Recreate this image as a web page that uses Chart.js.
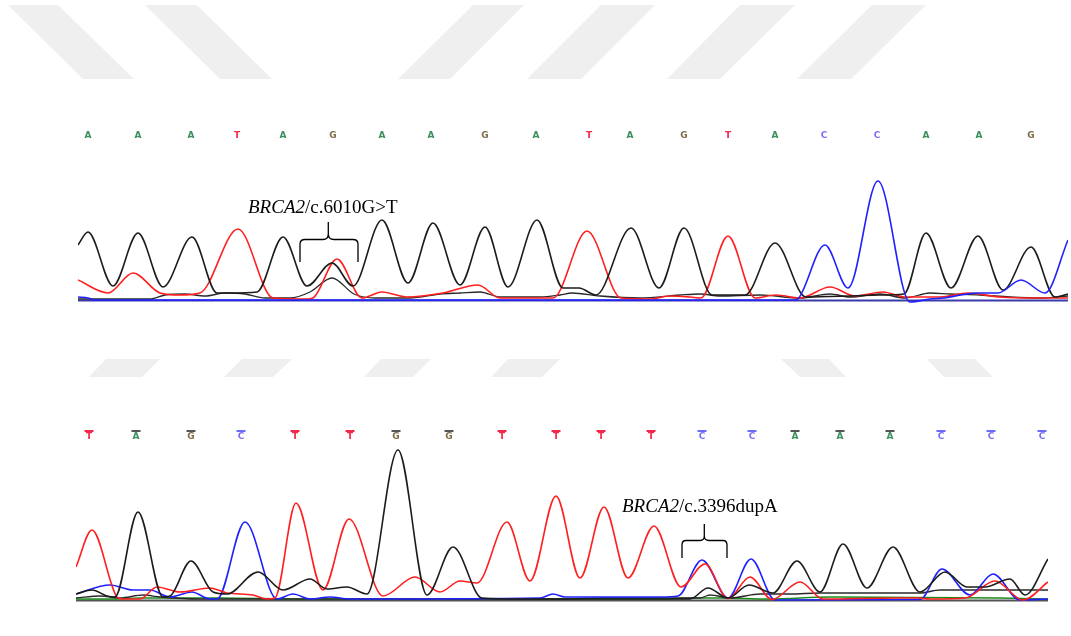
<!DOCTYPE html>
<html>
<head>
<meta charset="utf-8">
<script src="https://cdn.jsdelivr.net/npm/chart.js@4.4.1/dist/chart.umd.min.js"></script>
<style>
  html, body { margin: 0; padding: 0; background: #ffffff; }
  #wrap { position: relative; width: 1071px; height: 636px; overflow: hidden; background: #fff; }
  #wrap svg, #wrap canvas { position: absolute; left: 0; top: 0; }
</style>
</head>
<body>
<div id="wrap">
<svg id="bg" width="1071" height="636" xmlns="http://www.w3.org/2000/svg">
  <g fill="#efefef">
    <polygon points="8,5 58,5 134,79 83,79"/>
    <polygon points="145,5 197,5 272,79 220,79"/>
    <polygon points="473,5 524,5 450,79 398,79"/>
    <polygon points="601,5 655,5 581,79 527,79"/>
    <polygon points="740,5 795,5 720,79 667,79"/>
    <polygon points="872,5 926,5 851,79 797,79"/>
    <polygon points="106,359 160,359 142,377 89,377"/>
    <polygon points="242,359 292,359 273,377 224,377"/>
    <polygon points="381,359 431,359 413,377 364,377"/>
    <polygon points="508,359 560,359 542,377 491,377"/>
    <polygon points="781,359 829,359 846,377 800,377"/>
    <polygon points="927,359 975,359 993,377 944,377"/>
  </g>
</svg>
<canvas id="c1" width="1071" height="636"></canvas>
<canvas id="c2" width="1071" height="636"></canvas>
<svg id="fg" width="1071" height="636" xmlns="http://www.w3.org/2000/svg">
  <text x="248" y="213" font-family="Liberation Serif, Times New Roman, serif" font-size="19" fill="#000"><tspan font-style="italic">BRCA2</tspan>/c.6010G&gt;T</text>
  <path d="M300,262 V244 Q300,239.5 305,239.5 H323 Q328.3,239.5 328.3,234 V222 M328.3,234 Q328.3,239.5 334,239.5 H353 Q358,239.5 358,244 V262" fill="none" stroke="#000" stroke-width="1.3"/>
  <text x="622" y="512" font-family="Liberation Serif, Times New Roman, serif" font-size="19" fill="#000"><tspan font-style="italic">BRCA2</tspan>/c.3396dupA</text>
  <path d="M682,558 V545 Q682,540.5 686,540.5 H700 Q704.3,540.5 704.3,536 V524 M704.3,536 Q704.3,540.5 709,540.5 H723 Q727,540.5 727,545 V558" fill="none" stroke="#000" stroke-width="1.3"/>
</svg>
</div>
<script>
// ---------- DATA ----------
// Top chromatogram (c.6010G>T): base calls and their scan positions
const topBases = ["A","A","A","T","A","G","A","A","G","A","T","A","G","T","A","C","C","A","A","G"];
const topBasePos = [88,138,191,237,283,333,382,431,485,536,589,630,684,728,775,824,877,926,979,1031];

// Top traces: [scan position, signal]
const topDark = [[78,55],[88,68],[113,14],[138,67],[163,13],[192,63],[217,7],[230,7],[257,8],[283,63],[307,14],[332,37],[353,14],[382,80],[408,17],[433,77],[460,15],[485,73],[508,13],[537,80],[563,12],[579,12],[596,5],[631,72],[659,12],[684,72],[712,5],[745,5],[775,57],[806,3],[850,4],[880,5],[904,6],[926,67],[951,12],[978,64],[1003,10],[1031,53],[1055,3],[1068,6]];
const topDark2 = [[78,1],[150,1],[165,5],[185,6],[205,4],[225,7],[245,6],[265,2],[290,2],[310,8],[332,22],[354,6],[375,2],[410,2],[440,6],[460,7],[480,8],[500,3],[540,3],[560,5],[572,7],[600,4],[640,2],[680,5],[700,6],[720,4],[760,5],[800,2],[830,6],[850,3],[880,6],[905,2],[930,7],[950,6],[980,5],[1010,3],[1040,2],[1068,4]];
const topRed = [[78,20],[108,7],[133,27],[160,7],[180,5],[200,7],[238,71],[273,2],[307,1],[313,2],[337,41],[362,2],[382,8],[407,3],[443,7],[478,15],[500,2],[530,2],[553,2],[587,69],[621,2],[650,1],[670,4],[690,3],[701,2],[728,64],[755,2],[776,5],[800,2],[830,13],[855,4],[883,8],[905,3],[940,3],[968,7],[1000,3],[1040,2],[1068,2]];
const topBlue = [[78,3],[88,2],[95,0],[795,0],[798,1],[825,55],[848,12],[878,119],[910,-2],[930,1],[944,2],[961,5],[978,7],[998,7],[1021,20],[1045,7],[1068,60]];
const topBase = [[78,-0.5],[1068,-0.5]];

// Bottom chromatogram (c.3396dupA)
const botBases = ["T","A","G","C","T","T","G","G","T","T","T","T","C","C","A","A","A","C","C","C"];
const botBasePos = [89,136,191,241,295,350,396,449,502,556,601,651,702,752,795,840,890,941,991,1042];

const botDark = [[76,6],[92,10],[107,4],[115,3],[138,88],[163,3],[170,4],[191,39],[213,8],[227,6],[258,28],[283,10],[310,21],[327,11],[347,13],[367,6],[398,150],[427,5],[453,53],[482,2],[520,1],[600,1],[690,1],[708,12],[728,2],[749,15],[773,7],[797,39],[820,8],[843,56],[867,12],[893,53],[920,8],[945,28],[967,13],[985,13],[1010,21],[1025,5],[1048,41]];
const botDark2 = [[76,2],[100,4],[120,2],[143,5],[160,3],[200,1],[560,1],[600,2],[700,2],[710,5],[730,2],[760,6],[790,6],[820,7],[920,7],[940,10],[1000,10],[1048,10]];
const botRed = [[76,33],[92,70],[117,3],[122,1],[140,1],[157,13],[180,8],[210,12],[227,7],[253,5],[267,1],[275,2],[296,97],[323,10],[349,81],[383,4],[415,23],[440,8],[460,19],[477,17],[507,78],[530,19],[556,104],[580,22],[604,93],[628,22],[654,74],[681,13],[705,36],[728,1.5],[750,23],[772,0.5],[800,18],[823,1],[897,2],[917,2],[930,1],[965,2],[995,19],[1023,0],[1048,18]];
const botBlue = [[76,6],[110,15],[133,10],[150,10],[170,3],[192,8],[210,1],[217,1],[245,78],[277,1],[293,6],[310,1],[330,3],[350,1],[540,2],[553,6],[565,3],[660,3],[678,4],[702,40],[728,2],[751,41],[775,0],[920,0.5],[942,31],[970,5],[993,26],[1020,0],[1048,1]];
const botGreen = [[76,1],[110,1],[140,2],[170,2],[220,2],[300,1],[520,1],[660,1],[690,2],[720,2],[770,1],[830,3],[1000,2],[1048,1]];
const botBase = [[76,-0.5],[1048,-0.5]];

// ---------- STYLE ----------
const baseColor = { A: "#3d8f5f", T: "#f0284a", G: "#7d6b45", C: "#7a70f0" };
const barColor  = { A: "#555555", T: "#f0284a", G: "#555555", C: "#6a6aff" };
const RED = "#ff1f1f", BLUE = "#2020ff", DARK = "#1c1c1c", GREEN = "#1a8a1a";

function ds(pts, color, w) {
  return {
    data: pts.map(p => ({ x: p[0], y: p[1] })),
    borderColor: color, borderWidth: w || 1.6, pointRadius: 0,
    fill: false, cubicInterpolationMode: "monotone", tension: 0.4
  };
}

const overBars = {
  id: "overBars",
  afterDraw(chart, args, opts) {
    if (!opts || !opts.enabled) return;
    const sx = chart.scales.x, ctx = chart.ctx;
    ctx.save();
    opts.pos.forEach((p, i) => {
      const px = sx.getPixelForValue(p);
      ctx.fillStyle = barColor[opts.bases[i]];
      ctx.fillRect(px - 4.5, opts.y, 9, 2);
    });
    ctx.restore();
  }
};

function makeChart(id, cfg) {
  return new Chart(document.getElementById(id), {
    type: "line",
    data: { datasets: cfg.datasets },
    plugins: [overBars],
    options: {
      responsive: false, animation: false, events: [],
      layout: { padding: cfg.padding },
      plugins: { legend: { display: false }, tooltip: { enabled: false },
                 overBars: cfg.bars || { enabled: false } },
      scales: {
        x: {
          type: "linear", position: "top", min: cfg.xmin, max: cfg.xmax,
          grid: { display: false, drawTicks: false }, border: { display: false },
          afterBuildTicks: s => { s.ticks = cfg.pos.map(v => ({ value: v })); },
          afterFit: s => { s.height = cfg.axisH; },
          ticks: {
            autoSkip: false, maxRotation: 0, minRotation: 0, padding: cfg.tickPad,
            font: { family: "DejaVu Sans", size: 9, weight: "bold" },
            color: c => baseColor[cfg.bases[c.index]] || "#000",
            callback: (v, i) => cfg.bases[i]
          }
        },
        y: { type: "linear", display: false, min: cfg.ymin, max: cfg.ymax }
      }
    }
  });
}

makeChart("c1", {
  datasets: [ds(topBlue, BLUE), ds(topDark, DARK), ds(topRed, RED), ds(topDark2, "#2a2a2a", 1.3), ds(topBase, "#3a3aaa", 2.2)],
  padding: { top: 120, bottom: 333, left: 78, right: 3 },
  xmin: 78, xmax: 1068, ymin: -3, ymax: 135, axisH: 45, tickPad: 23.6,
  pos: topBasePos, bases: topBases
});

makeChart("c2", {
  datasets: [ds(botDark, DARK), ds(botRed, RED), ds(botBlue, BLUE), ds(botDark2, "#2a2a2a", 1.3), ds(botGreen, GREEN, 1.3), ds(botBase, "#555555", 2.2)],
  padding: { top: 415, bottom: 33, left: 76, right: 23 },
  xmin: 76, xmax: 1048, ymin: -3, ymax: 155, axisH: 30, tickPad: 3,
  pos: botBasePos, bases: botBases,
  bars: { enabled: true, pos: botBasePos, bases: botBases, y: 430 }
});
</script>
</body>
</html>
